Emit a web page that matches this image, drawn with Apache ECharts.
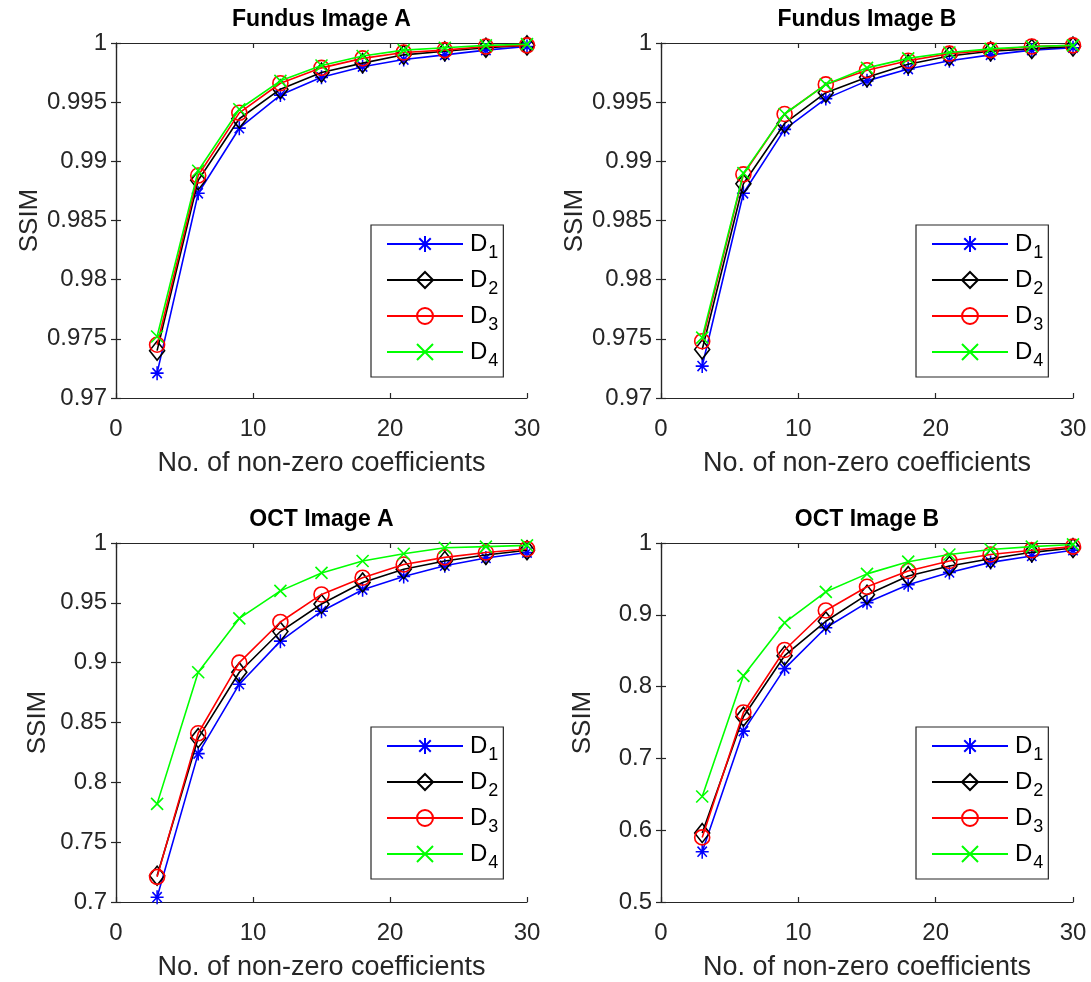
<!DOCTYPE html>
<html>
<head>
<meta charset="utf-8">
<script src="https://cdn.jsdelivr.net/npm/echarts@6/dist/echarts.min.js"></script>
<style>html,body{margin:0;padding:0;background:#fff;}#main{width:1091px;height:982px;}</style>
</head>
<body>
<div id="main"></div>
<script>
// ---------- data ----------
const xValues = [3, 6, 9, 12, 15, 18, 21, 24, 27, 30];
const seriesNames = ['D1', 'D2', 'D3', 'D4'];
const panelTitles = ['Fundus Image A', 'Fundus Image B', 'OCT Image A', 'OCT Image B'];

const fundusA_D1 = [0.9721, 0.9873, 0.9928, 0.9956, 0.9971, 0.9980, 0.9986, 0.9990, 0.9994, 0.9997];
const fundusA_D2 = [0.9740, 0.9884, 0.9936, 0.9961, 0.9975, 0.9983, 0.9990, 0.9993, 0.9996, 0.9998];
const fundusA_D3 = [0.9745, 0.9888, 0.9941, 0.9966, 0.9979, 0.9987, 0.9992, 0.9994, 0.9997, 0.9998];
const fundusA_D4 = [0.9752, 0.9892, 0.9944, 0.9968, 0.9981, 0.9989, 0.9994, 0.9996, 0.9998, 0.9999];

const fundusB_D1 = [0.9727, 0.9873, 0.9927, 0.9953, 0.9968, 0.9978, 0.9985, 0.9990, 0.9994, 0.9996];
const fundusB_D2 = [0.9741, 0.9881, 0.9932, 0.9958, 0.9971, 0.9982, 0.9989, 0.9993, 0.9995, 0.9997];
const fundusB_D3 = [0.9748, 0.9889, 0.9940, 0.9965, 0.9977, 0.9985, 0.9991, 0.9994, 0.9997, 0.9998];
const fundusB_D4 = [0.9751, 0.9890, 0.9940, 0.9965, 0.9979, 0.9987, 0.9992, 0.9995, 0.9997, 0.9998];

const octA_D1 = [0.704, 0.824, 0.882, 0.918, 0.943, 0.961, 0.972, 0.981, 0.9875, 0.992];
const octA_D2 = [0.722, 0.837, 0.892, 0.926, 0.949, 0.967, 0.978, 0.985, 0.990, 0.994];
const octA_D3 = [0.721, 0.841, 0.900, 0.934, 0.957, 0.971, 0.982, 0.988, 0.992, 0.995];
const octA_D4 = [0.782, 0.892, 0.937, 0.960, 0.975, 0.985, 0.991, 0.996, 0.997, 0.998];

const octB_D1 = [0.570, 0.738, 0.825, 0.882, 0.917, 0.942, 0.959, 0.973, 0.982, 0.990];
const octB_D2 = [0.596, 0.758, 0.843, 0.891, 0.928, 0.954, 0.968, 0.978, 0.987, 0.993];
const octB_D3 = [0.590, 0.764, 0.851, 0.906, 0.939, 0.961, 0.975, 0.984, 0.990, 0.995];
const octB_D4 = [0.647, 0.815, 0.889, 0.932, 0.957, 0.974, 0.984, 0.991, 0.995, 0.998];

const xTicks = { min: 0, max: 30, interval: 10 };
const yTicks = [
  { min: 0.97, max: 1, interval: 0.005 },
  { min: 0.97, max: 1, interval: 0.005 },
  { min: 0.7, max: 1, interval: 0.05 },
  { min: 0.5, max: 1, interval: 0.1 }
];

const panelData = [
  [fundusA_D1, fundusA_D2, fundusA_D3, fundusA_D4],
  [fundusB_D1, fundusB_D2, fundusB_D3, fundusB_D4],
  [octA_D1, octA_D2, octA_D3, octA_D4],
  [octB_D1, octB_D2, octB_D3, octB_D4]
];

// ---------- styles ----------
const FONT = '"Liberation Sans", Arial, Helvetica, sans-serif';
const AXIS_COLOR = '#262626';
const colors = ['#0000ff', '#000000', '#ff0000', '#00ff00'];
const symbols = [
  'path://M0,-1L0,1M-1,0L1,0M-0.72,-0.72L0.72,0.72M-0.72,0.72L0.72,-0.72',
  'diamond',
  'circle',
  'path://M-1,-1L1,1M-1,1L1,-1'
];
const symbolSizes = [[13, 14], [15, 19], [15, 15], [12, 12]];

const grids = [
  { left: 116, top: 43, width: 411, height: 355 },
  { left: 661, top: 43, width: 412, height: 355 },
  { left: 116, top: 543, width: 411, height: 360 },
  { left: 661, top: 543, width: 412, height: 360 }
];
const legendPos = [
  { left: 371, top: 225 },
  { left: 916, top: 225 },
  { left: 371, top: 727 },
  { left: 916, top: 727 }
];

const axisLineStyle = { show: true, lineStyle: { color: AXIS_COLOR, width: 1.2 } };
const tickStyle = { show: true, inside: true, length: 5, lineStyle: { color: AXIS_COLOR, width: 1.2 } };

const xAxes = [], yAxes = [], series = [], titles = [], legends = [];
grids.forEach((g, i) => {
  xAxes.push({
    type: 'value', gridIndex: i, min: xTicks.min, max: xTicks.max, interval: xTicks.interval,
    position: 'bottom',
    name: 'No. of non-zero coefficients', nameLocation: 'middle', nameGap: 52,
    nameTextStyle: { fontFamily: FONT, fontSize: 27, color: AXIS_COLOR },
    axisLine: axisLineStyle, axisTick: tickStyle, splitLine: { show: false },
    axisLabel: { fontFamily: FONT, fontSize: 24, color: AXIS_COLOR, margin: 19 }
  });
  xAxes.push({
    type: 'value', gridIndex: i, min: xTicks.min, max: xTicks.max, interval: xTicks.interval,
    position: 'top',
    axisLine: axisLineStyle, axisTick: tickStyle, splitLine: { show: false },
    axisLabel: { show: false }
  });
  yAxes.push({
    type: 'value', gridIndex: i, min: yTicks[i].min, max: yTicks[i].max, interval: yTicks[i].interval,
    position: 'left',
    name: 'SSIM', nameLocation: 'middle', nameGap: 65,
    nameTextStyle: { fontFamily: FONT, fontSize: 26, color: AXIS_COLOR },
    axisLine: axisLineStyle, axisTick: tickStyle, splitLine: { show: false },
    axisLabel: { fontFamily: FONT, fontSize: 24, color: AXIS_COLOR, margin: 9 }
  });
  yAxes.push({
    type: 'value', gridIndex: i, min: yTicks[i].min, max: yTicks[i].max, interval: yTicks[i].interval,
    position: 'right',
    axisLine: axisLineStyle, axisTick: tickStyle, splitLine: { show: false },
    axisLabel: { show: false }
  });
  titles.push({
    text: panelTitles[i],
    left: g.left + g.width / 2, top: g.top - 35, textAlign: 'center', padding: 0,
    textStyle: { fontFamily: FONT, fontSize: 23, fontWeight: 'bold', color: '#000' }
  });
  legends.push({
    data: seriesNames, orient: 'vertical',
    left: legendPos[i].left, top: legendPos[i].top,
    padding: [7, 5, 7, 15], itemGap: 6, itemWidth: 76, itemHeight: 20,
    borderColor: AXIS_COLOR, borderWidth: 1.2, backgroundColor: '#fff',
    selectedMode: false,
    formatter: name => '{d|D}{s|' + name.slice(1) + '}',
    textStyle: {
      fontFamily: FONT, color: '#000',
      rich: {
        d: { fontFamily: FONT, fontSize: 24, color: '#000', padding: [0, 0, 0, 2] },
        s: { fontFamily: FONT, fontSize: 18, color: '#000', padding: [18, 0, 0, 1] }
      }
    }
  });
  panelData[i].forEach((vals, k) => {
    series.push({
      name: seriesNames[k], type: 'line',
      xAxisIndex: i * 2, yAxisIndex: i * 2,
      data: xValues.map((x, j) => [x, vals[j]]),
      symbol: symbols[k], symbolSize: symbolSizes[k], showAllSymbol: true,
      clip: false,
      lineStyle: { color: colors[k], width: 1.6 },
      itemStyle: { color: 'transparent', borderColor: colors[k], borderWidth: 1.6 },
      emphasis: { disabled: true },
      z: 2 + k
    });
  });
});

const chart = echarts.init(document.getElementById('main'), null, { renderer: 'canvas' });
chart.setOption({
  animation: false,
  backgroundColor: '#fff',
  title: titles,
  legend: legends,
  grid: grids.map(g => Object.assign({ containLabel: false }, g)),
  xAxis: xAxes,
  yAxis: yAxes,
  series: series
});
</script>
</body>
</html>
